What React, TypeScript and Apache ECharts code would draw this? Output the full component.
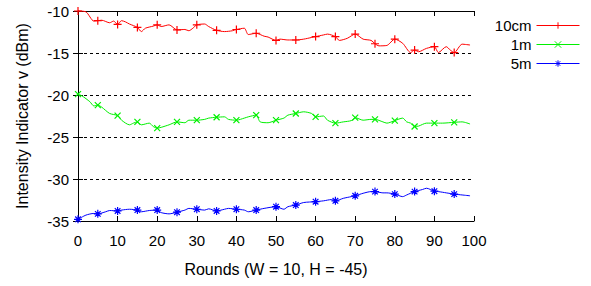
import React, { useEffect, useRef } from "react";
import * as echarts from "echarts";

const seriesNames = ["10cm", "1m", "5m"];
const xTicks = [0, 100, 10];
const yTicks = [-35, -10, 5];

const redRounds = [0, 2, 4, 5, 6, 8, 9, 10, 11, 12, 13, 15, 16, 17, 19, 20, 21, 23, 25, 27, 28, 29, 30, 32, 33, 35, 37, 39, 40, 42, 43, 45, 47, 48, 50, 51, 53, 55, 57, 59, 60, 62, 63, 65, 66, 68, 70, 72, 74, 75, 76, 78, 80, 82, 84, 85, 86, 88, 90, 91, 93, 94, 95, 97, 99];
const redValues = [-10.0, -10.1, -11.2, -11.15, -11.1, -11.4, -11.2, -11.6, -11.15, -11.3, -11.55, -11.95, -12.45, -12.05, -11.8, -11.65, -11.85, -11.65, -12.25, -12.2, -12.35, -12.05, -11.65, -11.55, -11.85, -12.3, -12.45, -12.35, -12.2, -12.05, -12.8, -12.65, -13.0, -13.1, -13.5, -13.35, -13.45, -13.45, -13.35, -13.15, -13.05, -12.85, -12.75, -13.05, -13.5, -13.25, -12.75, -13.35, -13.5, -13.9, -14.15, -14.1, -13.35, -13.85, -14.95, -14.65, -14.85, -14.45, -14.25, -14.95, -14.25, -14.65, -14.95, -13.95, -14.05];

const greenRounds = [0, 1, 3, 4, 5, 6, 8, 10, 11, 13, 14, 15, 16, 18, 19, 20, 21, 23, 25, 27, 28, 30, 32, 33, 35, 37, 38, 40, 42, 43, 45, 46, 48, 50, 52, 53, 55, 57, 59, 60, 62, 63, 65, 67, 69, 70, 72, 74, 75, 77, 78, 80, 82, 83, 84, 85, 86, 88, 90, 92, 95, 97, 99];
const greenValues = [-19.9, -20.1, -20.8, -21.3, -21.2, -21.45, -22.2, -22.45, -23.0, -23.55, -23.35, -23.2, -23.55, -23.35, -23.75, -23.95, -23.85, -23.55, -23.2, -23.3, -23.0, -23.0, -22.9, -22.75, -22.65, -22.6, -22.9, -23.0, -22.75, -22.6, -22.4, -23.2, -23.3, -23.0, -22.75, -22.4, -22.2, -22.0, -22.2, -22.6, -22.5, -23.0, -23.35, -23.2, -23.05, -22.7, -23.0, -22.9, -22.9, -23.2, -23.35, -23.05, -22.75, -23.2, -23.35, -23.75, -23.7, -23.35, -23.35, -23.35, -23.25, -23.2, -23.45];

const blueRounds = [0, 2, 4, 5, 7, 8, 10, 11, 13, 15, 16, 18, 20, 21, 23, 25, 27, 28, 30, 32, 33, 35, 37, 38, 40, 42, 43, 45, 47, 50, 52, 53, 55, 57, 60, 62, 64, 65, 67, 69, 70, 72, 74, 75, 77, 78, 80, 82, 83, 85, 87, 88, 90, 91, 93, 95, 97, 99];
const blueValues = [-34.8, -34.3, -34.1, -34.15, -33.9, -33.75, -33.8, -33.7, -33.6, -33.7, -33.9, -33.75, -33.7, -34.0, -34.15, -33.95, -33.7, -33.5, -33.6, -33.7, -33.55, -33.8, -33.6, -33.5, -33.6, -33.7, -33.9, -33.7, -33.5, -33.3, -33.6, -33.3, -33.1, -32.8, -32.7, -32.6, -32.45, -32.6, -32.3, -32.1, -32.0, -31.7, -31.5, -31.5, -31.65, -31.65, -31.8, -32.1, -31.9, -31.5, -31.25, -31.1, -31.45, -31.5, -31.65, -31.8, -31.9, -32.0];

const colors = ["#ff0000", "#00f000", "#0000ff"];
const symbols = [
  "path://M0,5L10,5M5,0L5,10",
  "path://M0,0L10,10M0,10L10,0",
  "path://M0,5L10,5M5,0L5,10M1.5,1.5L8.5,8.5M1.5,8.5L8.5,1.5",
];
const symbolSizes = [8, 6, 8];

const FONT = "'Liberation Sans', Arial, sans-serif";

function buildData(rounds: number[], values: number[]) {
  return rounds.map((r, i) =>
    r % 5 === 0 ? { value: [r, values[i]] } : { value: [r, values[i]], symbol: "none" }
  );
}

export default function App() {
  const ref = useRef<HTMLDivElement>(null);
  useEffect(() => {
    if (!ref.current) return;
    const chart = echarts.init(ref.current, null, { renderer: "svg" });
    const allRounds = [redRounds, greenRounds, blueRounds];
    const allValues = [redValues, greenValues, blueValues];
    const axisCommon = {
      axisLine: { show: true, lineStyle: { color: "#000", width: 1 } },
      axisTick: { show: true, inside: true, length: 5, lineStyle: { color: "#000" } },
    };
    chart.setOption({
      animation: false,
      backgroundColor: "#fff",
      textStyle: { fontFamily: FONT },
      grid: { left: 78, right: 117, top: 11, bottom: 65, containLabel: false },
      legend: {
        orient: "vertical",
        right: 6,
        top: 13,
        align: "right",
        itemWidth: 43,
        itemHeight: 8,
        itemGap: 4,
        lineStyle: { width: 1 },
        itemStyle: { borderWidth: 1 },
        textStyle: { fontSize: 15, color: "#000", fontFamily: FONT },
        data: seriesNames,
      },
      xAxis: [
        {
          type: "value",
          min: xTicks[0],
          max: xTicks[1],
          interval: xTicks[2],
          position: "bottom",
          name: "Rounds (W = 10, H = -45)",
          nameLocation: "middle",
          nameGap: 40,
          nameTextStyle: { fontSize: 16, color: "#000", fontFamily: FONT },
          axisLabel: { fontSize: 15, color: "#000", margin: 12, fontFamily: FONT },
          splitLine: { show: false },
          ...axisCommon,
        },
        {
          type: "value",
          min: xTicks[0],
          max: xTicks[1],
          interval: xTicks[2],
          position: "top",
          axisLabel: { show: false },
          splitLine: { show: false },
          ...axisCommon,
        },
      ],
      yAxis: [
        {
          type: "value",
          min: yTicks[0],
          max: yTicks[1],
          interval: yTicks[2],
          position: "left",
          name: "Intensity Indicator v (dBm)",
          nameLocation: "middle",
          nameGap: 48,
          nameTextStyle: { fontSize: 16, color: "#000", fontFamily: FONT },
          axisLabel: { fontSize: 15, color: "#000", margin: 9, fontFamily: FONT },
          splitLine: { show: true, lineStyle: { color: "#000", type: [3, 3], width: 1 } },
          ...axisCommon,
        },
        {
          type: "value",
          min: yTicks[0],
          max: yTicks[1],
          interval: yTicks[2],
          position: "right",
          axisLabel: { show: false },
          splitLine: { show: false },
          ...axisCommon,
        },
      ],
      series: seriesNames.map((name, i) => ({
        name,
        type: "line",
        xAxisIndex: 0,
        yAxisIndex: 0,
        data: buildData(allRounds[i], allValues[i]),
        smooth: 0.25,
        clip: false,
        showAllSymbol: true,
        symbol: symbols[i],
        symbolSize: symbolSizes[i],
        lineStyle: { color: colors[i], width: 1 },
        itemStyle: { color: colors[i], borderColor: colors[i], borderWidth: 1.2 },
        emphasis: { disabled: true },
        z: 3,
      })),
    });
    return () => chart.dispose();
  }, []);
  return (
    <div
      ref={ref}
      style={{ position: "fixed", left: 0, top: 0, width: 591, height: 286 }}
    />
  );
}
